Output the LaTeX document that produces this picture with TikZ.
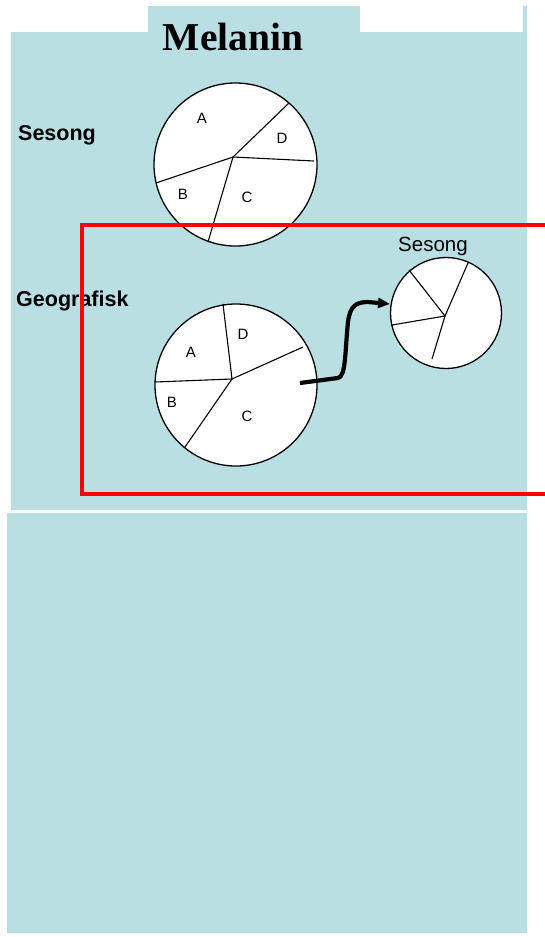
\documentclass[tikz,border=0pt]{standalone}
\usepackage{fontspec}
\setmainfont{Liberation Serif}
\setsansfont{Liberation Sans}
\usetikzlibrary{arrows.meta}
\definecolor{panel}{RGB}{185,223,227}
\begin{document}
\begin{tikzpicture}[x=1pt,y=-1pt,
  piecirc/.style={circle,draw=black,line width=1.3pt,fill=white,inner sep=0pt},
  spoke/.style={draw=black,line width=1.1pt},
  slab/.style={font=\sffamily\fontsize{15}{16}\selectfont,inner sep=0pt},
  rowlab/.style={anchor=base west,inner sep=0pt,font=\sffamily\bfseries\fontsize{21.5}{23}\selectfont},
  frame/.style={draw=red,line width=4pt},
  flow/.style={line width=4.2pt,line join=round,-{Triangle[length=12pt,width=10pt]}}]
\useasboundingbox (0,0) rectangle (544,937);
\fill[white] (0,0) rectangle (544,937);
% panels
\fill[panel] (11,32) rectangle (527,510);
\fill[panel] (148,6) rectangle (360,32);
\fill[panel] (523,6) rectangle (527,32);
\fill[panel] (7,513) rectangle (527,933);
% title
\node[anchor=base,inner sep=0pt,font=\bfseries\fontsize{39.5}{41}\selectfont] (title) at (233,50) {Melanin};
% row labels
\node[rowlab] (lab1) at (18,140) {Sesong};
\node[rowlab] (lab2) at (16,306) {Geografisk};
% pie 1
\node[piecirc,minimum size=163pt] (p1) at (235.5,164.5) {};
\coordinate (c1) at (233,157);
\draw[spoke] (c1) -- (289,103);
\draw[spoke] (c1) -- (314,161);
\draw[spoke] (c1) -- (208,242);
\draw[spoke] (c1) -- (156,183);
\node[slab] (p1a) at (202,118) {A};
\node[slab] (p1d) at (282,138) {D};
\node[slab] (p1b) at (183,194) {B};
\node[slab] (p1c) at (247,197) {C};
% pie 2
\node[piecirc,minimum size=162pt] (p2) at (236,385) {};
\coordinate (c2) at (232,379);
\draw[spoke] (c2) -- (223,304);
\draw[spoke] (c2) -- (303,347);
\draw[spoke] (c2) -- (185,447);
\draw[spoke] (c2) -- (155,382);
\node[slab] (p2d) at (243,334) {D};
\node[slab] (p2a) at (191,352) {A};
\node[slab] (p2b) at (172,402) {B};
\node[slab] (p2c) at (247,416) {C};
% pie 3
\node[piecirc,minimum size=111pt] (p3) at (446,313) {};
\coordinate (c3) at (445,316);
\draw[spoke] (c3) -- (409,270);
\draw[spoke] (c3) -- (468,263);
\draw[spoke] (c3) -- (432,359);
\draw[spoke] (c3) -- (392,325);
\node[anchor=base,inner sep=0pt,font=\sffamily\fontsize{20.5}{22}\selectfont] (lab3) at (433,251) {Sesong};
% arrow
\coordinate (a1) at (300,383);
\coordinate (a2) at (390,304);
\draw[flow] (a1) -- (338,378) .. controls (346,377) and (345,350) .. (348,322)
  .. controls (350,306) and (356,302) .. (368,302) -- (a2);
% red frame
\draw[frame] (82,225) rectangle (560,494);
\end{tikzpicture}
\end{document}
